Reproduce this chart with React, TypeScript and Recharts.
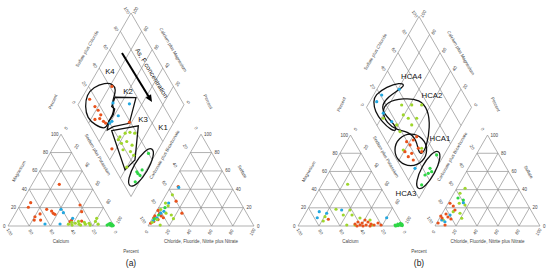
import React from 'react';
import { ComposedChart, XAxis, YAxis, Scatter, Line, ReferenceLine } from 'recharts';

const W = 550;
const H = 271;
const K = Math.sqrt(3) / 2;

// ---------------- data (percent values) ----------------
const tickValues = [0, 20, 40, 60, 80, 100];
const gridValues = [20, 40, 60, 80];

// Panel (a) — cation triangle [Na+K %, Mg %]
const catA_orange: number[][] = [[8.7, 25.4], [9, 20.4], [25.7, 45.4], [23.7, 13.1], [20.4, 10.1], [21.5, 6.5], [27.5, 6.5], [27.4, 18.2], [33, 16.3], [35.8, 13.8], [37.9, 12.7], [56.5, 22.9], [61.7, 15.6], [56.2, 4.7], [56.8, 6.5], [66.8, 5.4]];
const catA_blue: number[][] = [[40.9, 18.2], [45, 14.5], [33.8, 2.2], [48, 2.2], [56.8, 8.4]];
const catA_lgreen: number[][] = [[56, 2], [58, 4], [60, 1], [62, 3], [64, 5], [66, 2], [68, 1], [70, 4], [72, 2], [75, 3], [80, 5], [84, 2], [79.5, 8.4], [77, 1]];
const catA_green: number[][] = [[93, 1], [95, 3], [96, 1], [97, 2], [98, 1], [99, 0.5], [94, 2], [98, 0]];
// Panel (a) — anion triangle [Cl %, SO4 %]
const anA_orange: number[][] = [[7, 43], [13, 27], [25, 14], [1, 17], [1, 9], [1, 11], [6, 7], [3, 5], [7, 11], [1, 3], [10, 9], [4, 14]];
const anA_blue: number[][] = [[8, 42], [7, 25], [7, 16], [5, 14], [4, 9], [2, 6]];
const anA_lgreen: number[][] = [[6, 34], [4, 25], [16, 12], [20, 8], [11, 1], [8, 22], [3, 18], [5, 7], [2, 4], [10, 14]];
const anA_green: number[][] = [[4, 12], [6, 20], [2, 8]];
// Panel (a) — diamond [Na+K %, Cl+SO4 %]
const diaA_orange: number[][] = [[22, 42], [8, 14], [17, 15], [22, 16], [24, 8], [28, 13], [33, 15], [36, 16], [27, 16], [58, 39], [56, 8]];
const diaA_blue: number[][] = [[32, 34], [48, 49], [44, 32], [41, 23], [40, 20]];
const diaA_lgreen: number[][] = [[57, 22], [60, 29], [64, 34], [69, 38], [62, 20], [66, 26], [73, 29], [67, 18], [75, 24], [80, 25], [80, 12], [57, 19]];
const diaA_green: number[][] = [[93, 40], [92, 19], [97, 20], [96, 12], [96, 25], [94, 19]];

// Panel (b)
const catB_orange: number[][] = [[25.2, 7.4], [53.2, 2.2], [54.9, 4.4], [58.5, 1.1], [59.4, 3.3], [60.5, 6.6], [64.3, 1.1], [64.5, 4.4], [68.4, 2.2], [71.9, 1.1], [74.6, 3.3], [78.5, 1.1], [56.2, 0], [61.9, 0], [68.6, 0]];
const catB_blue: number[][] = [[12.4, 15.7], [13.8, 9.1], [20.3, 14], [32.8, 17.6], [79.9, 9.1]];
const catB_lgreen: number[][] = [[24.3, 45.9], [27, 18.4], [20.6, 10.2], [21.3, 5.5], [37.1, 12.1], [40.7, 17.6], [45.4, 12.1], [45.9, 1.1], [53.8, 1.1], [65.3, 6.6], [70, 1.1], [54.6, 8.8]];
const catB_green: number[][] = [[92, 1], [94, 2], [95, 0.5], [96, 3], [97, 1], [98, 2], [99, 0.5], [93, 0]];
const anB_orange: number[][] = [[1.8, 25], [6.4, 22], [10.2, 17.6], [9, 1.1], [0, 11], [2.3, 8.8], [3.9, 13.2], [7.4, 9.9], [1.3, 3.3], [11.3, 7.7]];
const anB_blue: number[][] = [[14.2, 25.6], [8.3, 12.1], [7.1, 4.7], [3.1, 6.6]];
const anB_lgreen: number[][] = [[7.9, 41.5], [5.8, 36], [10.6, 25], [17, 23.1], [21.2, 8.5], [9.5, 15.7], [4.6, 6.6], [16.8, 14]];
const anB_green: number[][] = [[12.7, 28.6], [6.5, 30.8]];
const diaB_orange: number[][] = [[57.1, 19.4], [62.1, 20.8], [62.5, 26.6], [61, 12.3], [66.9, 12.7], [68.3, 17.8], [71.8, 26.9], [73.5, 15.6], [76.9, 28.2], [63.9, 31.7]];
const diaB_blue: number[][] = [[7.7, 21.3], [6.6, 12.9], [21.3, 41.2], [19.2, 12.8], [31.8, 16.2], [79.7, 12.7]];
const diaB_lgreen: number[][] = [[32.2, 34.8], [41.7, 44.4], [51.2, 53.9], [39.2, 30.9], [45.8, 33.8], [53.8, 41.8], [52.7, 33.4], [38.4, 19.1], [22, 10], [45.2, 18.6], [75, 30], [58.5, 11.6]];
const diaB_green: number[][] = [[93, 40.7], [94, 27], [95.1, 22.6], [92.9, 18.5], [95.2, 9.9], [97.4, 26.7]];

// Envelopes in the diamond [Na+K %, Cl+SO4 %]
const envK4: number[][] = [[4.9, 24], [13.4, 37.5], [22, 44.6], [27.8, 43.9], [29.5, 38.4], [31.9, 31.7], [36.1, 32.4], [38.3, 27.2], [37.8, 19.4], [40.1, 12.7], [27, 5], [16.1, 1.4], [7.6, 5.6], [2.8, 13.6]];
const envK2: number[][] = [[30.8, 39], [50.8, 58.6], [58.5, 38.3], [45.2, 21.4], [41.4, 13.9], [38.1, 19.8], [38.8, 27.8], [36.9, 32.3], [32.8, 30.8]];
const envK3: number[][] = [[45.9, 17.7], [68.4, 45.4], [83.8, 23.7], [79.8, 8.9]];
const envK1: number[][] = [[93.8, 47.7], [99.7, 44.1], [101.9, 29.4], [99.4, 12.3], [93.3, 2.9], [87.5, 6.5], [85.2, 21.2], [87.8, 38.2]];
const envHCA4: number[][] = [[1.3, 14.9], [7.8, 30.6], [18.3, 45.5], [24.3, 49], [21.9, 41.9], [14.8, 26.7], [13.2, 15.8], [19.2, 12.8], [36.8, 17.5], [41.5, 16], [36.8, 11.2], [22.3, 6.7], [10.4, 5.8], [3.3, 9.7]];
const envHCA2: number[][] = [[16.1, 22.4], [30, 40.1], [46.5, 55.4], [60.3, 57.4], [71.1, 49.9], [79, 35.8], [78.7, 26.4], [73.7, 25], [65.7, 29.9], [53.1, 26.5], [41.2, 16.3], [28, 10.5], [16.8, 12.2]];
const envHCA1: number[][] = [[56, 28.4], [70.6, 37.4], [82.3, 35.4], [84.2, 23.8], [75.2, 9.2], [60.6, 0.2], [48.9, 2.1], [47, 13.8]];
const envHCA3: number[][] = [[92.6, 46], [98.7, 42.8], [101.6, 28.8], [99.6, 12.2], [94, 2.9], [87.9, 6], [85, 20.1], [87, 36.6]];

// Annotation positions [Na+K %, Cl+SO4 %]
const arrowFrom = [13.3, 69.7];
const arrowTo = [68.3, 71.3];
const arrowText = 'As, F concentration';
const arrowTextAt = [52.5, 87.1];
const labelsA = [{ t: 'K4', at: [12.3, 48] }, { t: 'K2', at: [40.2, 54.1] }, { t: 'K3', at: [69.6, 53] }, { t: 'K1', at: [92.8, 67.6] }];
const labelsB = [{ t: 'HCA4', at: [26.1, 59.6] }, { t: 'HCA2', at: [55.9, 68.9] }, { t: 'HCA1', at: [87.4, 52.6] }, { t: 'HCA3', at: [84.7, -9.5] }];

// ---------------- layout & style ----------------
type Geo = { x0: number; s: number; gap: number; base: number };
const GEO_A: Geo = { x0: 8, s: 106, gap: 34, base: 226 };
const GEO_B: Geo = { x0: 298, s: 105, gap: 32, base: 226 };

const ORANGE = '#E8521C';
const BLUE = '#22A7E0';
const LGREEN = '#9ED62C';
const GREEN = '#2ED645';
const GRID = '#8f8f8f';
const FONT = 'Liberation Sans, Arial, sans-serif';

type P = { x: number; y: number };
const cat = (g: Geo, na: number, mg: number): P => ({ x: g.x0 + (g.s * (na + mg / 2)) / 100, y: g.base - (g.s * K * mg) / 100 });
const an = (g: Geo, cl: number, so4: number): P => ({ x: g.x0 + g.s + g.gap + (g.s * (cl + so4 / 2)) / 100, y: g.base - (g.s * K * so4) / 100 });
const dia = (g: Geo, na: number, cs: number): P => {
  const bx = g.x0 + g.s + g.gap / 2;
  const by = g.base - g.gap * K;
  const a = 1 - na / 100;
  const b = cs / 100;
  return { x: bx + ((b - a) * g.s) / 2, y: by - (a + b) * g.s * K };
};
const off = (p: P, dx: number, dy: number): P => ({ x: p.x + dx, y: p.y + dy });

function gridSegments(g: Geo): [P, P][] {
  const s: [P, P][] = [];
  s.push([cat(g, 0, 0), cat(g, 100, 0)], [cat(g, 0, 0), cat(g, 0, 100)], [cat(g, 100, 0), cat(g, 0, 100)]);
  s.push([an(g, 0, 0), an(g, 100, 0)], [an(g, 0, 0), an(g, 0, 100)], [an(g, 100, 0), an(g, 0, 100)]);
  s.push([dia(g, 0, 0), dia(g, 0, 100)], [dia(g, 0, 100), dia(g, 100, 100)], [dia(g, 100, 100), dia(g, 100, 0)], [dia(g, 100, 0), dia(g, 0, 0)]);
  gridValues.forEach((v) => {
    s.push([cat(g, 0, v), cat(g, 100 - v, v)], [cat(g, v, 0), cat(g, v, 100 - v)], [cat(g, 100 - v, 0), cat(g, 0, 100 - v)]);
    s.push([an(g, 0, v), an(g, 100 - v, v)], [an(g, v, 0), an(g, v, 100 - v)], [an(g, 100 - v, 0), an(g, 0, 100 - v)]);
    s.push([dia(g, v, 0), dia(g, v, 100)], [dia(g, 0, v), dia(g, 100, v)]);
  });
  return s;
}

type Lab = { x: number; y: number; t: string; rot: number; anchor: string; fs: number; fill: string };
function buildLabels(g: Geo, name: string, notes: { t: string; at: number[] }[]): Lab[] {
  const L: Lab[] = [];
  const push = (p: P, t: string, rot = 0, anchor = 'middle', fs = 4.5, fill = '#444') => L.push({ x: p.x, y: p.y, t, rot, anchor, fs, fill });
  tickValues.forEach((v) => {
    push(off(cat(g, 0, v), -2.5, 0), String(v), 0, 'end');
    push(off(cat(g, v, 0), 1.5, 6), String(100 - v), 60);
    push(off(cat(g, v, 100 - v), 5, -6), String(v), -60);
    push(off(an(g, 0, 100 - v), -5, -6), String(v), 60);
    push(off(an(g, v, 0), -1.5, 6), String(v), -60);
    push(off(an(g, 100 - v, v), 3, 0), String(v), 0, 'start');
    push(off(dia(g, 0, v), -5 * K, -2.5), String(v), 60);
    push(off(dia(g, 100 - v, 100), 5 * K, -2.5), String(v), -60);
  });
  const B = dia(g, 100, 0);
  push(off(cat(g, 0, 50), -18 * K, -9), 'Magnesium', -60);
  push(off(cat(g, 50, 0), 0, 15), 'Calcium');
  push(off(dia(g, 50, 0), -8 * K, 4), 'Sodium plus Potassium', 60);
  push(off(dia(g, 100, 50), 8 * K, 4), 'Carbonate plus Bicarbonate', -60);
  push(off(dia(g, 0, 50), -20 * K, -10), 'Sulfate plus Chloride', -60);
  push(off(dia(g, 50, 100), 18 * K, -9), 'Calcium plus Magnesium', 60);
  push(off(an(g, 50, 50), 17 * K, -8.5), 'Sulfate', 60);
  push(off(an(g, 50, 0), 0, 15), 'Chloride, Fluoride, Nitrite plus Nitrate');
  push({ x: B.x, y: g.base + 25 }, 'Percent');
  push(off(dia(g, 0, 0), -25, -3), 'Percent', -65);
  push(off(dia(g, 100, 100), 24, -3), 'Percent', 65);
  push({ x: B.x, y: g.base + 37 }, name, 0, 'middle', 8.5, '#222');
  notes.forEach((n) => push(dia(g, n.at[0], n.at[1]), n.t, 0, 'middle', 7.8, '#111'));
  return L;
}

const TextShape = (props: any) => {
  const { cx, cy, payload } = props;
  if (cx == null || cy == null) return null;
  return (
    <text
      x={cx}
      y={cy}
      transform={payload.rot ? `rotate(${payload.rot} ${cx} ${cy})` : undefined}
      textAnchor={payload.anchor}
      dominantBaseline="central"
      fontSize={payload.fs}
      fill={payload.fill}
      fontFamily={FONT}
    >
      {payload.t}
    </text>
  );
};

const DotShape = (props: any) => {
  const { cx, cy, fill } = props;
  if (cx == null || cy == null) return null;
  return <circle cx={cx} cy={cy} r={1.6} fill={fill} />;
};

const ArrowHead = (props: any) => {
  const { cx, cy, payload } = props;
  if (cx == null || cy == null) return null;
  return <path d="M0,0 L-7,-3.2 L-7,3.2 Z" fill="#000" transform={`translate(${cx} ${cy}) rotate(${payload.angle})`} />;
};

const groupsA = [
  { color: ORANGE, cat: catA_orange, an: anA_orange, dia: diaA_orange },
  { color: BLUE, cat: catA_blue, an: anA_blue, dia: diaA_blue },
  { color: LGREEN, cat: catA_lgreen, an: anA_lgreen, dia: diaA_lgreen },
  { color: GREEN, cat: catA_green, an: anA_green, dia: diaA_green },
];
const groupsB = [
  { color: LGREEN, cat: catB_lgreen, an: anB_lgreen, dia: diaB_lgreen },
  { color: BLUE, cat: catB_blue, an: anB_blue, dia: diaB_blue },
  { color: ORANGE, cat: catB_orange, an: anB_orange, dia: diaB_orange },
  { color: GREEN, cat: catB_green, an: anB_green, dia: diaB_green },
];

const envelopesA = [
  { pts: envK4, curve: 'basisClosed' },
  { pts: envK2, curve: 'linearClosed' },
  { pts: envK3, curve: 'linearClosed' },
  { pts: envK1, curve: 'basisClosed' },
];
const envelopesB = [
  { pts: envHCA4, curve: 'basisClosed' },
  { pts: envHCA2, curve: 'basisClosed' },
  { pts: envHCA1, curve: 'basisClosed' },
  { pts: envHCA3, curve: 'basisClosed' },
];

export default function App() {
  const panels = [
    { g: GEO_A, groups: groupsA, env: envelopesA, labels: buildLabels(GEO_A, '(a)', labelsA), key: 'a' },
    { g: GEO_B, groups: groupsB, env: envelopesB, labels: buildLabels(GEO_B, '(b)', labelsB), key: 'b' },
  ];
  const aFrom = dia(GEO_A, arrowFrom[0], arrowFrom[1]);
  const aTo = dia(GEO_A, arrowTo[0], arrowTo[1]);
  const angle = (Math.atan2(aTo.y - aFrom.y, aTo.x - aFrom.x) * 180) / Math.PI;
  const len = Math.hypot(aTo.x - aFrom.x, aTo.y - aFrom.y);
  const shaftEnd = { x: aFrom.x + ((aTo.x - aFrom.x) * (len - 5)) / len, y: aFrom.y + ((aTo.y - aFrom.y) * (len - 5)) / len };
  const tAt = dia(GEO_A, arrowTextAt[0], arrowTextAt[1]);
  const arrowLabel = [{ x: tAt.x, y: tAt.y, t: arrowText, rot: angle, anchor: 'middle', fs: 6.6, fill: '#111' }];

  return (
    <div style={{ position: 'absolute', left: 0, top: 0, width: W, height: H, background: '#fff' }}>
      <ComposedChart width={W} height={H} margin={{ top: 0, right: 0, bottom: 0, left: 0 }}>
        <XAxis type="number" dataKey="x" domain={[0, W]} allowDataOverflow hide />
        <YAxis type="number" dataKey="y" domain={[0, H]} reversed allowDataOverflow hide />
        {panels.map((pn) =>
          gridSegments(pn.g).map((seg, i) => (
            <ReferenceLine
              key={`g${pn.key}${i}`}
              segment={[{ x: seg[0].x, y: seg[0].y }, { x: seg[1].x, y: seg[1].y }]}
              stroke={GRID}
              strokeWidth={0.7}
              ifOverflow="visible"
            />
          ))
        )}
        {panels.map((pn) =>
          pn.env.map((e, i) => (
            <Line
              key={`e${pn.key}${i}`}
              data={e.pts.map(([na, cs]) => dia(pn.g, na, cs))}
              dataKey="y"
              type={e.curve as any}
              stroke="#111"
              strokeWidth={1.3}
              dot={false}
              activeDot={false}
              isAnimationActive={false}
            />
          ))
        )}
        {panels.map((pn) =>
          pn.groups.map((grp, i) => (
            <Scatter
              key={`p${pn.key}${i}`}
              data={[
                ...grp.cat.map(([a, b]) => cat(pn.g, a, b)),
                ...grp.an.map(([a, b]) => an(pn.g, a, b)),
                ...grp.dia.map(([a, b]) => dia(pn.g, a, b)),
              ]}
              dataKey="y"
              fill={grp.color}
              shape={DotShape}
              isAnimationActive={false}
            />
          ))
        )}
        <Line
          data={[aFrom, shaftEnd]}
          dataKey="y"
          type="linear"
          stroke="#000"
          strokeWidth={2}
          dot={false}
          activeDot={false}
          isAnimationActive={false}
        />
        <Scatter data={[{ x: aTo.x, y: aTo.y, angle }]} dataKey="y" shape={ArrowHead} isAnimationActive={false} />
        <Scatter data={arrowLabel} dataKey="y" shape={TextShape} isAnimationActive={false} />
        {panels.map((pn) => (
          <Scatter key={`t${pn.key}`} data={pn.labels} dataKey="y" shape={TextShape} isAnimationActive={false} />
        ))}
      </ComposedChart>
    </div>
  );
}
